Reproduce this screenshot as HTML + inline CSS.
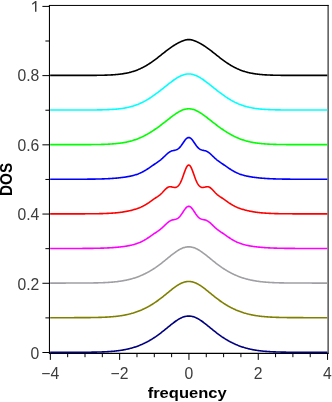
<!DOCTYPE html>
<html><head><meta charset="utf-8"><style>
html,body{margin:0;padding:0;background:#fff;overflow:hidden;}
svg{display:block;font-family:"Liberation Sans",sans-serif;will-change:transform;}
</style></head><body>
<svg width="332" height="402" viewBox="0 0 332 402">
<rect width="332" height="402" fill="#fff"/>
<g stroke="#000" stroke-width="1" fill="none">
<line x1="42.40" y1="352.50" x2="50.00" y2="352.50"/>
<line x1="45.40" y1="317.89" x2="50.00" y2="317.89"/>
<line x1="42.40" y1="283.28" x2="50.00" y2="283.28"/>
<line x1="45.40" y1="248.67" x2="50.00" y2="248.67"/>
<line x1="42.40" y1="214.06" x2="50.00" y2="214.06"/>
<line x1="45.40" y1="179.45" x2="50.00" y2="179.45"/>
<line x1="42.40" y1="144.84" x2="50.00" y2="144.84"/>
<line x1="45.40" y1="110.23" x2="50.00" y2="110.23"/>
<line x1="42.40" y1="75.62" x2="50.00" y2="75.62"/>
<line x1="45.40" y1="41.01" x2="50.00" y2="41.01"/>
<line x1="42.40" y1="6.40" x2="50.00" y2="6.40"/>
<line x1="50.35" y1="353.4" x2="50.35" y2="359.9"/>
<line x1="67.67" y1="353.4" x2="67.67" y2="357.2"/>
<line x1="85.00" y1="353.4" x2="85.00" y2="357.2"/>
<line x1="102.32" y1="353.4" x2="102.32" y2="357.2"/>
<line x1="119.65" y1="353.4" x2="119.65" y2="359.9"/>
<line x1="136.97" y1="353.4" x2="136.97" y2="357.2"/>
<line x1="154.30" y1="353.4" x2="154.30" y2="357.2"/>
<line x1="171.62" y1="353.4" x2="171.62" y2="357.2"/>
<line x1="188.95" y1="353.4" x2="188.95" y2="359.9"/>
<line x1="206.27" y1="353.4" x2="206.27" y2="357.2"/>
<line x1="223.60" y1="353.4" x2="223.60" y2="357.2"/>
<line x1="240.92" y1="353.4" x2="240.92" y2="357.2"/>
<line x1="258.25" y1="353.4" x2="258.25" y2="359.9"/>
<line x1="275.57" y1="353.4" x2="275.57" y2="357.2"/>
<line x1="292.90" y1="353.4" x2="292.90" y2="357.2"/>
<line x1="310.22" y1="353.4" x2="310.22" y2="357.2"/>
<line x1="327.55" y1="353.4" x2="327.55" y2="359.9"/>
<path d="M49.45,353.9 L49.45,4.95" stroke-width="1.05"/>
<path d="M48.95,5.45 L328.6,5.45" stroke-width="1.0"/>
<path d="M328.1,4.95 L328.1,353.9" stroke-width="1.0"/>
<path d="M48.95,353.4 L328.6,353.4" stroke-width="1.2"/>
</g>
<g>
<path d="M50.15,352.30 L50.84,352.30 L51.54,352.30 L52.23,352.30 L52.92,352.30 L53.62,352.30 L54.31,352.30 L55.00,352.30 L55.69,352.30 L56.39,352.30 L57.08,352.30 L57.77,352.30 L58.47,352.30 L59.16,352.30 L59.85,352.30 L60.54,352.30 L61.24,352.30 L61.93,352.30 L62.62,352.30 L63.32,352.30 L64.01,352.30 L64.70,352.30 L65.40,352.30 L66.09,352.29 L66.78,352.29 L67.48,352.29 L68.17,352.29 L68.86,352.29 L69.55,352.29 L70.25,352.29 L70.94,352.29 L71.63,352.29 L72.33,352.29 L73.02,352.29 L73.71,352.29 L74.41,352.28 L75.10,352.28 L75.79,352.28 L76.48,352.28 L77.18,352.28 L77.87,352.28 L78.56,352.27 L79.26,352.27 L79.95,352.27 L80.64,352.27 L81.34,352.26 L82.03,352.26 L82.72,352.26 L83.41,352.25 L84.11,352.25 L84.80,352.24 L85.49,352.24 L86.19,352.23 L86.88,352.23 L87.57,352.22 L88.27,352.21 L88.96,352.21 L89.65,352.20 L90.34,352.19 L91.04,352.18 L91.73,352.17 L92.42,352.16 L93.12,352.15 L93.81,352.14 L94.50,352.13 L95.19,352.11 L95.89,352.10 L96.58,352.09 L97.27,352.07 L97.97,352.05 L98.66,352.03 L99.35,352.01 L100.05,351.99 L100.74,351.97 L101.43,351.95 L102.12,351.92 L102.82,351.90 L103.51,351.87 L104.20,351.84 L104.90,351.81 L105.59,351.77 L106.28,351.74 L106.98,351.70 L107.67,351.66 L108.36,351.62 L109.06,351.57 L109.75,351.52 L110.44,351.47 L111.13,351.42 L111.83,351.37 L112.52,351.31 L113.21,351.25 L113.91,351.18 L114.60,351.11 L115.29,351.04 L115.99,350.97 L116.68,350.89 L117.37,350.81 L118.06,350.72 L118.76,350.63 L119.45,350.54 L120.14,350.44 L120.84,350.33 L121.53,350.23 L122.22,350.11 L122.92,350.00 L123.61,349.87 L124.30,349.75 L124.99,349.61 L125.69,349.47 L126.38,349.33 L127.07,349.18 L127.77,349.02 L128.46,348.86 L129.15,348.70 L129.85,348.52 L130.54,348.34 L131.23,348.16 L131.92,347.96 L132.62,347.76 L133.31,347.56 L134.00,347.34 L134.70,347.12 L135.39,346.89 L136.08,346.66 L136.78,346.42 L137.47,346.17 L138.16,345.91 L138.85,345.65 L139.55,345.37 L140.24,345.09 L140.93,344.80 L141.63,344.51 L142.32,344.20 L143.01,343.89 L143.71,343.57 L144.40,343.24 L145.09,342.90 L145.78,342.56 L146.48,342.20 L147.17,341.84 L147.86,341.47 L148.56,341.09 L149.25,340.70 L149.94,340.30 L150.63,339.90 L151.33,339.48 L152.02,339.06 L152.71,338.63 L153.41,338.18 L154.10,337.73 L154.79,337.27 L155.49,336.81 L156.18,336.33 L156.87,335.85 L157.56,335.35 L158.26,334.85 L158.95,334.34 L159.64,333.83 L160.34,333.30 L161.03,332.77 L161.72,332.23 L162.42,331.69 L163.11,331.14 L163.80,330.59 L164.50,330.03 L165.19,329.47 L165.88,328.91 L166.57,328.34 L167.27,327.77 L167.96,327.20 L168.65,326.64 L169.35,326.07 L170.04,325.51 L170.73,324.95 L171.43,324.40 L172.12,323.85 L172.81,323.31 L173.50,322.78 L174.20,322.26 L174.89,321.75 L175.58,321.25 L176.28,320.77 L176.97,320.31 L177.66,319.86 L178.36,319.43 L179.05,319.02 L179.74,318.64 L180.43,318.27 L181.13,317.93 L181.82,317.62 L182.51,317.33 L183.21,317.07 L183.90,316.84 L184.59,316.64 L185.28,316.46 L185.98,316.32 L186.67,316.21 L187.36,316.13 L188.06,316.08 L188.75,316.06 L189.44,316.08 L190.14,316.13 L190.83,316.21 L191.52,316.32 L192.21,316.46 L192.91,316.64 L193.60,316.84 L194.29,317.07 L194.99,317.33 L195.68,317.62 L196.37,317.93 L197.07,318.27 L197.76,318.64 L198.45,319.02 L199.14,319.43 L199.84,319.86 L200.53,320.31 L201.22,320.77 L201.92,321.25 L202.61,321.75 L203.30,322.26 L204.00,322.78 L204.69,323.31 L205.38,323.85 L206.07,324.40 L206.77,324.95 L207.46,325.51 L208.15,326.07 L208.85,326.64 L209.54,327.20 L210.23,327.77 L210.93,328.34 L211.62,328.91 L212.31,329.47 L213.00,330.03 L213.70,330.59 L214.39,331.14 L215.08,331.69 L215.78,332.23 L216.47,332.77 L217.16,333.30 L217.86,333.83 L218.55,334.34 L219.24,334.85 L219.94,335.35 L220.63,335.85 L221.32,336.33 L222.01,336.81 L222.71,337.27 L223.40,337.73 L224.09,338.18 L224.79,338.63 L225.48,339.06 L226.17,339.48 L226.87,339.90 L227.56,340.30 L228.25,340.70 L228.94,341.09 L229.64,341.47 L230.33,341.84 L231.02,342.20 L231.72,342.56 L232.41,342.90 L233.10,343.24 L233.79,343.57 L234.49,343.89 L235.18,344.20 L235.87,344.51 L236.57,344.80 L237.26,345.09 L237.95,345.37 L238.65,345.65 L239.34,345.91 L240.03,346.17 L240.72,346.42 L241.42,346.66 L242.11,346.89 L242.80,347.12 L243.50,347.34 L244.19,347.56 L244.88,347.76 L245.58,347.96 L246.27,348.16 L246.96,348.34 L247.66,348.52 L248.35,348.70 L249.04,348.86 L249.73,349.02 L250.43,349.18 L251.12,349.33 L251.81,349.47 L252.51,349.61 L253.20,349.75 L253.89,349.87 L254.59,350.00 L255.28,350.11 L255.97,350.23 L256.66,350.33 L257.36,350.44 L258.05,350.54 L258.74,350.63 L259.44,350.72 L260.13,350.81 L260.82,350.89 L261.51,350.97 L262.21,351.04 L262.90,351.11 L263.59,351.18 L264.29,351.25 L264.98,351.31 L265.67,351.37 L266.37,351.42 L267.06,351.47 L267.75,351.52 L268.44,351.57 L269.14,351.62 L269.83,351.66 L270.52,351.70 L271.22,351.74 L271.91,351.77 L272.60,351.81 L273.30,351.84 L273.99,351.87 L274.68,351.90 L275.38,351.92 L276.07,351.95 L276.76,351.97 L277.45,351.99 L278.15,352.01 L278.84,352.03 L279.53,352.05 L280.23,352.07 L280.92,352.09 L281.61,352.10 L282.31,352.11 L283.00,352.13 L283.69,352.14 L284.38,352.15 L285.08,352.16 L285.77,352.17 L286.46,352.18 L287.16,352.19 L287.85,352.20 L288.54,352.21 L289.24,352.21 L289.93,352.22 L290.62,352.23 L291.31,352.23 L292.01,352.24 L292.70,352.24 L293.39,352.25 L294.09,352.25 L294.78,352.26 L295.47,352.26 L296.17,352.26 L296.86,352.27 L297.55,352.27 L298.24,352.27 L298.94,352.27 L299.63,352.28 L300.32,352.28 L301.02,352.28 L301.71,352.28 L302.40,352.28 L303.09,352.28 L303.79,352.29 L304.48,352.29 L305.17,352.29 L305.87,352.29 L306.56,352.29 L307.25,352.29 L307.95,352.29 L308.64,352.29 L309.33,352.29 L310.02,352.29 L310.72,352.29 L311.41,352.29 L312.10,352.30 L312.80,352.30 L313.49,352.30 L314.18,352.30 L314.88,352.30 L315.57,352.30 L316.26,352.30 L316.96,352.30 L317.65,352.30 L318.34,352.30 L319.03,352.30 L319.73,352.30 L320.42,352.30 L321.11,352.30 L321.81,352.30 L322.50,352.30 L323.19,352.30 L323.88,352.30 L324.58,352.30 L325.27,352.30 L325.96,352.30 L326.66,352.30 L327.35,352.30" fill="none" stroke="#000080" stroke-width="1.6" stroke-linejoin="round"/>
<path d="M50.15,317.69 L50.84,317.69 L51.54,317.69 L52.23,317.69 L52.92,317.69 L53.62,317.69 L54.31,317.69 L55.00,317.69 L55.69,317.69 L56.39,317.69 L57.08,317.69 L57.77,317.69 L58.47,317.69 L59.16,317.69 L59.85,317.69 L60.54,317.69 L61.24,317.69 L61.93,317.69 L62.62,317.69 L63.32,317.69 L64.01,317.69 L64.70,317.69 L65.40,317.69 L66.09,317.68 L66.78,317.68 L67.48,317.68 L68.17,317.68 L68.86,317.68 L69.55,317.68 L70.25,317.68 L70.94,317.68 L71.63,317.68 L72.33,317.68 L73.02,317.68 L73.71,317.68 L74.41,317.67 L75.10,317.67 L75.79,317.67 L76.48,317.67 L77.18,317.67 L77.87,317.67 L78.56,317.66 L79.26,317.66 L79.95,317.66 L80.64,317.66 L81.34,317.65 L82.03,317.65 L82.72,317.65 L83.41,317.64 L84.11,317.64 L84.80,317.63 L85.49,317.63 L86.19,317.62 L86.88,317.62 L87.57,317.61 L88.27,317.60 L88.96,317.60 L89.65,317.59 L90.34,317.58 L91.04,317.57 L91.73,317.56 L92.42,317.55 L93.12,317.54 L93.81,317.53 L94.50,317.52 L95.19,317.50 L95.89,317.49 L96.58,317.48 L97.27,317.46 L97.97,317.44 L98.66,317.42 L99.35,317.40 L100.05,317.38 L100.74,317.36 L101.43,317.34 L102.12,317.31 L102.82,317.29 L103.51,317.26 L104.20,317.23 L104.90,317.20 L105.59,317.16 L106.28,317.13 L106.98,317.09 L107.67,317.05 L108.36,317.01 L109.06,316.96 L109.75,316.91 L110.44,316.86 L111.13,316.81 L111.83,316.76 L112.52,316.70 L113.21,316.64 L113.91,316.57 L114.60,316.50 L115.29,316.43 L115.99,316.36 L116.68,316.28 L117.37,316.20 L118.06,316.11 L118.76,316.02 L119.45,315.93 L120.14,315.83 L120.84,315.72 L121.53,315.62 L122.22,315.50 L122.92,315.39 L123.61,315.26 L124.30,315.14 L124.99,315.00 L125.69,314.86 L126.38,314.72 L127.07,314.57 L127.77,314.41 L128.46,314.25 L129.15,314.09 L129.85,313.91 L130.54,313.73 L131.23,313.55 L131.92,313.35 L132.62,313.15 L133.31,312.95 L134.00,312.73 L134.70,312.51 L135.39,312.28 L136.08,312.05 L136.78,311.81 L137.47,311.56 L138.16,311.30 L138.85,311.04 L139.55,310.76 L140.24,310.48 L140.93,310.19 L141.63,309.90 L142.32,309.59 L143.01,309.28 L143.71,308.96 L144.40,308.63 L145.09,308.29 L145.78,307.95 L146.48,307.59 L147.17,307.23 L147.86,306.86 L148.56,306.48 L149.25,306.09 L149.94,305.69 L150.63,305.29 L151.33,304.87 L152.02,304.45 L152.71,304.02 L153.41,303.57 L154.10,303.12 L154.79,302.66 L155.49,302.20 L156.18,301.72 L156.87,301.24 L157.56,300.74 L158.26,300.24 L158.95,299.73 L159.64,299.22 L160.34,298.69 L161.03,298.16 L161.72,297.62 L162.42,297.08 L163.11,296.53 L163.80,295.98 L164.50,295.42 L165.19,294.86 L165.88,294.30 L166.57,293.73 L167.27,293.16 L167.96,292.59 L168.65,292.03 L169.35,291.46 L170.04,290.90 L170.73,290.34 L171.43,289.79 L172.12,289.24 L172.81,288.70 L173.50,288.17 L174.20,287.65 L174.89,287.14 L175.58,286.64 L176.28,286.16 L176.97,285.70 L177.66,285.25 L178.36,284.82 L179.05,284.41 L179.74,284.03 L180.43,283.66 L181.13,283.32 L181.82,283.01 L182.51,282.72 L183.21,282.46 L183.90,282.23 L184.59,282.03 L185.28,281.85 L185.98,281.71 L186.67,281.60 L187.36,281.52 L188.06,281.47 L188.75,281.45 L189.44,281.47 L190.14,281.52 L190.83,281.60 L191.52,281.71 L192.21,281.85 L192.91,282.03 L193.60,282.23 L194.29,282.46 L194.99,282.72 L195.68,283.01 L196.37,283.32 L197.07,283.66 L197.76,284.03 L198.45,284.41 L199.14,284.82 L199.84,285.25 L200.53,285.70 L201.22,286.16 L201.92,286.64 L202.61,287.14 L203.30,287.65 L204.00,288.17 L204.69,288.70 L205.38,289.24 L206.07,289.79 L206.77,290.34 L207.46,290.90 L208.15,291.46 L208.85,292.03 L209.54,292.59 L210.23,293.16 L210.93,293.73 L211.62,294.30 L212.31,294.86 L213.00,295.42 L213.70,295.98 L214.39,296.53 L215.08,297.08 L215.78,297.62 L216.47,298.16 L217.16,298.69 L217.86,299.22 L218.55,299.73 L219.24,300.24 L219.94,300.74 L220.63,301.24 L221.32,301.72 L222.01,302.20 L222.71,302.66 L223.40,303.12 L224.09,303.57 L224.79,304.02 L225.48,304.45 L226.17,304.87 L226.87,305.29 L227.56,305.69 L228.25,306.09 L228.94,306.48 L229.64,306.86 L230.33,307.23 L231.02,307.59 L231.72,307.95 L232.41,308.29 L233.10,308.63 L233.79,308.96 L234.49,309.28 L235.18,309.59 L235.87,309.90 L236.57,310.19 L237.26,310.48 L237.95,310.76 L238.65,311.04 L239.34,311.30 L240.03,311.56 L240.72,311.81 L241.42,312.05 L242.11,312.28 L242.80,312.51 L243.50,312.73 L244.19,312.95 L244.88,313.15 L245.58,313.35 L246.27,313.55 L246.96,313.73 L247.66,313.91 L248.35,314.09 L249.04,314.25 L249.73,314.41 L250.43,314.57 L251.12,314.72 L251.81,314.86 L252.51,315.00 L253.20,315.14 L253.89,315.26 L254.59,315.39 L255.28,315.50 L255.97,315.62 L256.66,315.72 L257.36,315.83 L258.05,315.93 L258.74,316.02 L259.44,316.11 L260.13,316.20 L260.82,316.28 L261.51,316.36 L262.21,316.43 L262.90,316.50 L263.59,316.57 L264.29,316.64 L264.98,316.70 L265.67,316.76 L266.37,316.81 L267.06,316.86 L267.75,316.91 L268.44,316.96 L269.14,317.01 L269.83,317.05 L270.52,317.09 L271.22,317.13 L271.91,317.16 L272.60,317.20 L273.30,317.23 L273.99,317.26 L274.68,317.29 L275.38,317.31 L276.07,317.34 L276.76,317.36 L277.45,317.38 L278.15,317.40 L278.84,317.42 L279.53,317.44 L280.23,317.46 L280.92,317.48 L281.61,317.49 L282.31,317.50 L283.00,317.52 L283.69,317.53 L284.38,317.54 L285.08,317.55 L285.77,317.56 L286.46,317.57 L287.16,317.58 L287.85,317.59 L288.54,317.60 L289.24,317.60 L289.93,317.61 L290.62,317.62 L291.31,317.62 L292.01,317.63 L292.70,317.63 L293.39,317.64 L294.09,317.64 L294.78,317.65 L295.47,317.65 L296.17,317.65 L296.86,317.66 L297.55,317.66 L298.24,317.66 L298.94,317.66 L299.63,317.67 L300.32,317.67 L301.02,317.67 L301.71,317.67 L302.40,317.67 L303.09,317.67 L303.79,317.68 L304.48,317.68 L305.17,317.68 L305.87,317.68 L306.56,317.68 L307.25,317.68 L307.95,317.68 L308.64,317.68 L309.33,317.68 L310.02,317.68 L310.72,317.68 L311.41,317.68 L312.10,317.69 L312.80,317.69 L313.49,317.69 L314.18,317.69 L314.88,317.69 L315.57,317.69 L316.26,317.69 L316.96,317.69 L317.65,317.69 L318.34,317.69 L319.03,317.69 L319.73,317.69 L320.42,317.69 L321.11,317.69 L321.81,317.69 L322.50,317.69 L323.19,317.69 L323.88,317.69 L324.58,317.69 L325.27,317.69 L325.96,317.69 L326.66,317.69 L327.35,317.69" fill="none" stroke="#808000" stroke-width="1.6" stroke-linejoin="round"/>
<path d="M50.15,283.08 L50.84,283.08 L51.54,283.08 L52.23,283.08 L52.92,283.08 L53.62,283.08 L54.31,283.08 L55.00,283.08 L55.69,283.08 L56.39,283.08 L57.08,283.08 L57.77,283.08 L58.47,283.08 L59.16,283.08 L59.85,283.08 L60.54,283.08 L61.24,283.08 L61.93,283.08 L62.62,283.08 L63.32,283.08 L64.01,283.08 L64.70,283.08 L65.40,283.08 L66.09,283.07 L66.78,283.07 L67.48,283.07 L68.17,283.07 L68.86,283.07 L69.55,283.07 L70.25,283.07 L70.94,283.07 L71.63,283.07 L72.33,283.07 L73.02,283.07 L73.71,283.07 L74.41,283.06 L75.10,283.06 L75.79,283.06 L76.48,283.06 L77.18,283.06 L77.87,283.06 L78.56,283.05 L79.26,283.05 L79.95,283.05 L80.64,283.05 L81.34,283.04 L82.03,283.04 L82.72,283.04 L83.41,283.03 L84.11,283.03 L84.80,283.02 L85.49,283.02 L86.19,283.01 L86.88,283.01 L87.57,283.00 L88.27,282.99 L88.96,282.99 L89.65,282.98 L90.34,282.97 L91.04,282.96 L91.73,282.95 L92.42,282.94 L93.12,282.93 L93.81,282.92 L94.50,282.91 L95.19,282.89 L95.89,282.88 L96.58,282.87 L97.27,282.85 L97.97,282.83 L98.66,282.81 L99.35,282.79 L100.05,282.77 L100.74,282.75 L101.43,282.73 L102.12,282.70 L102.82,282.68 L103.51,282.65 L104.20,282.62 L104.90,282.59 L105.59,282.55 L106.28,282.52 L106.98,282.48 L107.67,282.44 L108.36,282.40 L109.06,282.35 L109.75,282.30 L110.44,282.25 L111.13,282.20 L111.83,282.15 L112.52,282.09 L113.21,282.03 L113.91,281.96 L114.60,281.89 L115.29,281.82 L115.99,281.75 L116.68,281.67 L117.37,281.59 L118.06,281.50 L118.76,281.41 L119.45,281.32 L120.14,281.22 L120.84,281.11 L121.53,281.01 L122.22,280.89 L122.92,280.78 L123.61,280.65 L124.30,280.53 L124.99,280.39 L125.69,280.25 L126.38,280.11 L127.07,279.96 L127.77,279.80 L128.46,279.64 L129.15,279.48 L129.85,279.30 L130.54,279.12 L131.23,278.94 L131.92,278.74 L132.62,278.54 L133.31,278.34 L134.00,278.12 L134.70,277.90 L135.39,277.67 L136.08,277.44 L136.78,277.20 L137.47,276.95 L138.16,276.69 L138.85,276.43 L139.55,276.15 L140.24,275.87 L140.93,275.58 L141.63,275.29 L142.32,274.98 L143.01,274.67 L143.71,274.35 L144.40,274.02 L145.09,273.68 L145.78,273.34 L146.48,272.98 L147.17,272.62 L147.86,272.25 L148.56,271.87 L149.25,271.48 L149.94,271.08 L150.63,270.68 L151.33,270.26 L152.02,269.84 L152.71,269.41 L153.41,268.96 L154.10,268.51 L154.79,268.05 L155.49,267.59 L156.18,267.11 L156.87,266.63 L157.56,266.13 L158.26,265.63 L158.95,265.12 L159.64,264.61 L160.34,264.08 L161.03,263.55 L161.72,263.01 L162.42,262.47 L163.11,261.92 L163.80,261.37 L164.50,260.81 L165.19,260.25 L165.88,259.69 L166.57,259.12 L167.27,258.55 L167.96,257.98 L168.65,257.42 L169.35,256.85 L170.04,256.29 L170.73,255.73 L171.43,255.18 L172.12,254.63 L172.81,254.09 L173.50,253.56 L174.20,253.04 L174.89,252.53 L175.58,252.03 L176.28,251.55 L176.97,251.09 L177.66,250.64 L178.36,250.21 L179.05,249.80 L179.74,249.42 L180.43,249.05 L181.13,248.71 L181.82,248.40 L182.51,248.11 L183.21,247.85 L183.90,247.62 L184.59,247.42 L185.28,247.24 L185.98,247.10 L186.67,246.99 L187.36,246.91 L188.06,246.86 L188.75,246.84 L189.44,246.86 L190.14,246.91 L190.83,246.99 L191.52,247.10 L192.21,247.24 L192.91,247.42 L193.60,247.62 L194.29,247.85 L194.99,248.11 L195.68,248.40 L196.37,248.71 L197.07,249.05 L197.76,249.42 L198.45,249.80 L199.14,250.21 L199.84,250.64 L200.53,251.09 L201.22,251.55 L201.92,252.03 L202.61,252.53 L203.30,253.04 L204.00,253.56 L204.69,254.09 L205.38,254.63 L206.07,255.18 L206.77,255.73 L207.46,256.29 L208.15,256.85 L208.85,257.42 L209.54,257.98 L210.23,258.55 L210.93,259.12 L211.62,259.69 L212.31,260.25 L213.00,260.81 L213.70,261.37 L214.39,261.92 L215.08,262.47 L215.78,263.01 L216.47,263.55 L217.16,264.08 L217.86,264.61 L218.55,265.12 L219.24,265.63 L219.94,266.13 L220.63,266.63 L221.32,267.11 L222.01,267.59 L222.71,268.05 L223.40,268.51 L224.09,268.96 L224.79,269.41 L225.48,269.84 L226.17,270.26 L226.87,270.68 L227.56,271.08 L228.25,271.48 L228.94,271.87 L229.64,272.25 L230.33,272.62 L231.02,272.98 L231.72,273.34 L232.41,273.68 L233.10,274.02 L233.79,274.35 L234.49,274.67 L235.18,274.98 L235.87,275.29 L236.57,275.58 L237.26,275.87 L237.95,276.15 L238.65,276.43 L239.34,276.69 L240.03,276.95 L240.72,277.20 L241.42,277.44 L242.11,277.67 L242.80,277.90 L243.50,278.12 L244.19,278.34 L244.88,278.54 L245.58,278.74 L246.27,278.94 L246.96,279.12 L247.66,279.30 L248.35,279.48 L249.04,279.64 L249.73,279.80 L250.43,279.96 L251.12,280.11 L251.81,280.25 L252.51,280.39 L253.20,280.53 L253.89,280.65 L254.59,280.78 L255.28,280.89 L255.97,281.01 L256.66,281.11 L257.36,281.22 L258.05,281.32 L258.74,281.41 L259.44,281.50 L260.13,281.59 L260.82,281.67 L261.51,281.75 L262.21,281.82 L262.90,281.89 L263.59,281.96 L264.29,282.03 L264.98,282.09 L265.67,282.15 L266.37,282.20 L267.06,282.25 L267.75,282.30 L268.44,282.35 L269.14,282.40 L269.83,282.44 L270.52,282.48 L271.22,282.52 L271.91,282.55 L272.60,282.59 L273.30,282.62 L273.99,282.65 L274.68,282.68 L275.38,282.70 L276.07,282.73 L276.76,282.75 L277.45,282.77 L278.15,282.79 L278.84,282.81 L279.53,282.83 L280.23,282.85 L280.92,282.87 L281.61,282.88 L282.31,282.89 L283.00,282.91 L283.69,282.92 L284.38,282.93 L285.08,282.94 L285.77,282.95 L286.46,282.96 L287.16,282.97 L287.85,282.98 L288.54,282.99 L289.24,282.99 L289.93,283.00 L290.62,283.01 L291.31,283.01 L292.01,283.02 L292.70,283.02 L293.39,283.03 L294.09,283.03 L294.78,283.04 L295.47,283.04 L296.17,283.04 L296.86,283.05 L297.55,283.05 L298.24,283.05 L298.94,283.05 L299.63,283.06 L300.32,283.06 L301.02,283.06 L301.71,283.06 L302.40,283.06 L303.09,283.06 L303.79,283.07 L304.48,283.07 L305.17,283.07 L305.87,283.07 L306.56,283.07 L307.25,283.07 L307.95,283.07 L308.64,283.07 L309.33,283.07 L310.02,283.07 L310.72,283.07 L311.41,283.07 L312.10,283.08 L312.80,283.08 L313.49,283.08 L314.18,283.08 L314.88,283.08 L315.57,283.08 L316.26,283.08 L316.96,283.08 L317.65,283.08 L318.34,283.08 L319.03,283.08 L319.73,283.08 L320.42,283.08 L321.11,283.08 L321.81,283.08 L322.50,283.08 L323.19,283.08 L323.88,283.08 L324.58,283.08 L325.27,283.08 L325.96,283.08 L326.66,283.08 L327.35,283.08" fill="none" stroke="#a0a0a4" stroke-width="1.6" stroke-linejoin="round"/>
<path d="M50.15,248.47 L50.84,248.47 L51.54,248.47 L52.23,248.47 L52.92,248.47 L53.62,248.47 L54.31,248.47 L55.00,248.47 L55.69,248.47 L56.39,248.47 L57.08,248.47 L57.77,248.47 L58.47,248.47 L59.16,248.47 L59.85,248.47 L60.54,248.47 L61.24,248.47 L61.93,248.47 L62.62,248.47 L63.32,248.47 L64.01,248.47 L64.70,248.46 L65.40,248.46 L66.09,248.46 L66.78,248.46 L67.48,248.46 L68.17,248.46 L68.86,248.46 L69.55,248.46 L70.25,248.46 L70.94,248.46 L71.63,248.46 L72.33,248.46 L73.02,248.46 L73.71,248.45 L74.41,248.45 L75.10,248.45 L75.79,248.45 L76.48,248.45 L77.18,248.45 L77.87,248.44 L78.56,248.44 L79.26,248.44 L79.95,248.44 L80.64,248.43 L81.34,248.43 L82.03,248.43 L82.72,248.42 L83.41,248.42 L84.11,248.42 L84.80,248.41 L85.49,248.41 L86.19,248.40 L86.88,248.40 L87.57,248.39 L88.27,248.38 L88.96,248.38 L89.65,248.37 L90.34,248.36 L91.04,248.36 L91.73,248.35 L92.42,248.34 L93.12,248.33 L93.81,248.32 L94.50,248.31 L95.19,248.30 L95.89,248.28 L96.58,248.27 L97.27,248.26 L97.97,248.24 L98.66,248.22 L99.35,248.21 L100.05,248.19 L100.74,248.17 L101.43,248.15 L102.12,248.13 L102.82,248.11 L103.51,248.08 L104.20,248.06 L104.90,248.03 L105.59,248.00 L106.28,247.98 L106.98,247.94 L107.67,247.91 L108.36,247.88 L109.06,247.84 L109.75,247.80 L110.44,247.76 L111.13,247.72 L111.83,247.68 L112.52,247.63 L113.21,247.58 L113.91,247.53 L114.60,247.48 L115.29,247.42 L115.99,247.36 L116.68,247.30 L117.37,247.24 L118.06,247.17 L118.76,247.10 L119.45,247.03 L120.14,246.95 L120.84,246.87 L121.53,246.79 L122.22,246.70 L122.92,246.61 L123.61,246.52 L124.30,246.42 L124.99,246.32 L125.69,246.21 L126.38,246.10 L127.07,245.99 L127.77,245.86 L128.46,245.74 L129.15,245.60 L129.85,245.46 L130.54,245.32 L131.23,245.17 L131.92,245.00 L132.62,244.84 L133.31,244.66 L134.00,244.47 L134.70,244.27 L135.39,244.07 L136.08,243.85 L136.78,243.62 L137.47,243.37 L138.16,243.12 L138.85,242.84 L139.55,242.56 L140.24,242.26 L140.93,241.94 L141.63,241.61 L142.32,241.27 L143.01,240.90 L143.71,240.53 L144.40,240.14 L145.09,239.73 L145.78,239.31 L146.48,238.88 L147.17,238.43 L147.86,237.98 L148.56,237.52 L149.25,237.05 L149.94,236.57 L150.63,236.10 L151.33,235.62 L152.02,235.14 L152.71,234.66 L153.41,234.19 L154.10,233.71 L154.79,233.24 L155.49,232.77 L156.18,232.29 L156.87,231.82 L157.56,231.34 L158.26,230.85 L158.95,230.35 L159.64,229.83 L160.34,229.29 L161.03,228.73 L161.72,228.14 L162.42,227.54 L163.11,226.90 L163.80,226.25 L164.50,225.59 L165.19,224.92 L165.88,224.25 L166.57,223.60 L167.27,222.98 L167.96,222.39 L168.65,221.85 L169.35,221.36 L170.04,220.94 L170.73,220.59 L171.43,220.30 L172.12,220.06 L172.81,219.88 L173.50,219.72 L174.20,219.59 L174.89,219.44 L175.58,219.27 L176.28,219.05 L176.97,218.75 L177.66,218.37 L178.36,217.88 L179.05,217.28 L179.74,216.57 L180.43,215.75 L181.13,214.84 L181.82,213.84 L182.51,212.80 L183.21,211.73 L183.90,210.66 L184.59,209.65 L185.28,208.71 L185.98,207.89 L186.67,207.22 L187.36,206.72 L188.06,206.41 L188.75,206.31 L189.44,206.41 L190.14,206.72 L190.83,207.22 L191.52,207.89 L192.21,208.71 L192.91,209.65 L193.60,210.66 L194.29,211.73 L194.99,212.80 L195.68,213.84 L196.37,214.84 L197.07,215.75 L197.76,216.57 L198.45,217.28 L199.14,217.88 L199.84,218.37 L200.53,218.75 L201.22,219.05 L201.92,219.27 L202.61,219.44 L203.30,219.59 L204.00,219.72 L204.69,219.88 L205.38,220.06 L206.07,220.30 L206.77,220.59 L207.46,220.94 L208.15,221.36 L208.85,221.85 L209.54,222.39 L210.23,222.98 L210.93,223.60 L211.62,224.25 L212.31,224.92 L213.00,225.59 L213.70,226.25 L214.39,226.90 L215.08,227.54 L215.78,228.14 L216.47,228.73 L217.16,229.29 L217.86,229.83 L218.55,230.35 L219.24,230.85 L219.94,231.34 L220.63,231.82 L221.32,232.29 L222.01,232.77 L222.71,233.24 L223.40,233.71 L224.09,234.19 L224.79,234.66 L225.48,235.14 L226.17,235.62 L226.87,236.10 L227.56,236.57 L228.25,237.05 L228.94,237.52 L229.64,237.98 L230.33,238.43 L231.02,238.88 L231.72,239.31 L232.41,239.73 L233.10,240.14 L233.79,240.53 L234.49,240.90 L235.18,241.27 L235.87,241.61 L236.57,241.94 L237.26,242.26 L237.95,242.56 L238.65,242.84 L239.34,243.12 L240.03,243.37 L240.72,243.62 L241.42,243.85 L242.11,244.07 L242.80,244.27 L243.50,244.47 L244.19,244.66 L244.88,244.84 L245.58,245.00 L246.27,245.17 L246.96,245.32 L247.66,245.46 L248.35,245.60 L249.04,245.74 L249.73,245.86 L250.43,245.99 L251.12,246.10 L251.81,246.21 L252.51,246.32 L253.20,246.42 L253.89,246.52 L254.59,246.61 L255.28,246.70 L255.97,246.79 L256.66,246.87 L257.36,246.95 L258.05,247.03 L258.74,247.10 L259.44,247.17 L260.13,247.24 L260.82,247.30 L261.51,247.36 L262.21,247.42 L262.90,247.48 L263.59,247.53 L264.29,247.58 L264.98,247.63 L265.67,247.68 L266.37,247.72 L267.06,247.76 L267.75,247.80 L268.44,247.84 L269.14,247.88 L269.83,247.91 L270.52,247.94 L271.22,247.98 L271.91,248.00 L272.60,248.03 L273.30,248.06 L273.99,248.08 L274.68,248.11 L275.38,248.13 L276.07,248.15 L276.76,248.17 L277.45,248.19 L278.15,248.21 L278.84,248.22 L279.53,248.24 L280.23,248.26 L280.92,248.27 L281.61,248.28 L282.31,248.30 L283.00,248.31 L283.69,248.32 L284.38,248.33 L285.08,248.34 L285.77,248.35 L286.46,248.36 L287.16,248.36 L287.85,248.37 L288.54,248.38 L289.24,248.38 L289.93,248.39 L290.62,248.40 L291.31,248.40 L292.01,248.41 L292.70,248.41 L293.39,248.42 L294.09,248.42 L294.78,248.42 L295.47,248.43 L296.17,248.43 L296.86,248.43 L297.55,248.44 L298.24,248.44 L298.94,248.44 L299.63,248.44 L300.32,248.45 L301.02,248.45 L301.71,248.45 L302.40,248.45 L303.09,248.45 L303.79,248.45 L304.48,248.46 L305.17,248.46 L305.87,248.46 L306.56,248.46 L307.25,248.46 L307.95,248.46 L308.64,248.46 L309.33,248.46 L310.02,248.46 L310.72,248.46 L311.41,248.46 L312.10,248.46 L312.80,248.46 L313.49,248.47 L314.18,248.47 L314.88,248.47 L315.57,248.47 L316.26,248.47 L316.96,248.47 L317.65,248.47 L318.34,248.47 L319.03,248.47 L319.73,248.47 L320.42,248.47 L321.11,248.47 L321.81,248.47 L322.50,248.47 L323.19,248.47 L323.88,248.47 L324.58,248.47 L325.27,248.47 L325.96,248.47 L326.66,248.47 L327.35,248.47" fill="none" stroke="#ff00ff" stroke-width="1.6" stroke-linejoin="round"/>
<path d="M50.15,213.86 L50.84,213.86 L51.54,213.86 L52.23,213.86 L52.92,213.86 L53.62,213.86 L54.31,213.86 L55.00,213.86 L55.69,213.86 L56.39,213.86 L57.08,213.86 L57.77,213.86 L58.47,213.86 L59.16,213.86 L59.85,213.86 L60.54,213.86 L61.24,213.86 L61.93,213.86 L62.62,213.86 L63.32,213.86 L64.01,213.86 L64.70,213.86 L65.40,213.86 L66.09,213.86 L66.78,213.86 L67.48,213.86 L68.17,213.86 L68.86,213.86 L69.55,213.86 L70.25,213.86 L70.94,213.85 L71.63,213.85 L72.33,213.85 L73.02,213.85 L73.71,213.85 L74.41,213.85 L75.10,213.85 L75.79,213.85 L76.48,213.85 L77.18,213.85 L77.87,213.85 L78.56,213.85 L79.26,213.84 L79.95,213.84 L80.64,213.84 L81.34,213.84 L82.03,213.84 L82.72,213.83 L83.41,213.83 L84.11,213.83 L84.80,213.83 L85.49,213.82 L86.19,213.82 L86.88,213.82 L87.57,213.81 L88.27,213.81 L88.96,213.80 L89.65,213.80 L90.34,213.79 L91.04,213.79 L91.73,213.78 L92.42,213.77 L93.12,213.76 L93.81,213.76 L94.50,213.75 L95.19,213.74 L95.89,213.73 L96.58,213.72 L97.27,213.71 L97.97,213.69 L98.66,213.68 L99.35,213.67 L100.05,213.65 L100.74,213.63 L101.43,213.62 L102.12,213.60 L102.82,213.58 L103.51,213.56 L104.20,213.53 L104.90,213.51 L105.59,213.48 L106.28,213.45 L106.98,213.42 L107.67,213.39 L108.36,213.36 L109.06,213.32 L109.75,213.29 L110.44,213.25 L111.13,213.20 L111.83,213.16 L112.52,213.11 L113.21,213.06 L113.91,213.01 L114.60,212.95 L115.29,212.89 L115.99,212.83 L116.68,212.77 L117.37,212.70 L118.06,212.62 L118.76,212.55 L119.45,212.47 L120.14,212.38 L120.84,212.29 L121.53,212.20 L122.22,212.10 L122.92,212.00 L123.61,211.89 L124.30,211.78 L124.99,211.66 L125.69,211.54 L126.38,211.41 L127.07,211.28 L127.77,211.14 L128.46,210.99 L129.15,210.84 L129.85,210.68 L130.54,210.52 L131.23,210.35 L131.92,210.17 L132.62,209.99 L133.31,209.80 L134.00,209.60 L134.70,209.39 L135.39,209.18 L136.08,208.96 L136.78,208.73 L137.47,208.48 L138.16,208.23 L138.85,207.97 L139.55,207.70 L140.24,207.41 L140.93,207.12 L141.63,206.80 L142.32,206.48 L143.01,206.13 L143.71,205.77 L144.40,205.40 L145.09,205.01 L145.78,204.60 L146.48,204.17 L147.17,203.73 L147.86,203.27 L148.56,202.81 L149.25,202.33 L149.94,201.84 L150.63,201.35 L151.33,200.86 L152.02,200.37 L152.71,199.88 L153.41,199.40 L154.10,198.92 L154.79,198.45 L155.49,197.99 L156.18,197.53 L156.87,197.07 L157.56,196.61 L158.26,196.12 L158.95,195.62 L159.64,195.08 L160.34,194.51 L161.03,193.89 L161.72,193.23 L162.42,192.53 L163.11,191.79 L163.80,191.04 L164.50,190.28 L165.19,189.55 L165.88,188.86 L166.57,188.24 L167.27,187.72 L167.96,187.30 L168.65,187.00 L169.35,186.82 L170.04,186.75 L170.73,186.77 L171.43,186.87 L172.12,187.01 L172.81,187.17 L173.50,187.31 L174.20,187.41 L174.89,187.44 L175.58,187.38 L176.28,187.20 L176.97,186.88 L177.66,186.40 L178.36,185.74 L179.05,184.90 L179.74,183.85 L180.43,182.60 L181.13,181.14 L181.82,179.50 L182.51,177.71 L183.21,175.80 L183.90,173.83 L184.59,171.88 L185.28,170.04 L185.98,168.37 L186.67,166.97 L187.36,165.91 L188.06,165.25 L188.75,165.02 L189.44,165.25 L190.14,165.91 L190.83,166.97 L191.52,168.37 L192.21,170.04 L192.91,171.88 L193.60,173.83 L194.29,175.80 L194.99,177.71 L195.68,179.50 L196.37,181.14 L197.07,182.60 L197.76,183.85 L198.45,184.90 L199.14,185.74 L199.84,186.40 L200.53,186.88 L201.22,187.20 L201.92,187.38 L202.61,187.44 L203.30,187.41 L204.00,187.31 L204.69,187.17 L205.38,187.01 L206.07,186.87 L206.77,186.77 L207.46,186.75 L208.15,186.82 L208.85,187.00 L209.54,187.30 L210.23,187.72 L210.93,188.24 L211.62,188.86 L212.31,189.55 L213.00,190.28 L213.70,191.04 L214.39,191.79 L215.08,192.53 L215.78,193.23 L216.47,193.89 L217.16,194.51 L217.86,195.08 L218.55,195.62 L219.24,196.12 L219.94,196.61 L220.63,197.07 L221.32,197.53 L222.01,197.99 L222.71,198.45 L223.40,198.92 L224.09,199.40 L224.79,199.88 L225.48,200.37 L226.17,200.86 L226.87,201.35 L227.56,201.84 L228.25,202.33 L228.94,202.81 L229.64,203.27 L230.33,203.73 L231.02,204.17 L231.72,204.60 L232.41,205.01 L233.10,205.40 L233.79,205.77 L234.49,206.13 L235.18,206.48 L235.87,206.80 L236.57,207.12 L237.26,207.41 L237.95,207.70 L238.65,207.97 L239.34,208.23 L240.03,208.48 L240.72,208.73 L241.42,208.96 L242.11,209.18 L242.80,209.39 L243.50,209.60 L244.19,209.80 L244.88,209.99 L245.58,210.17 L246.27,210.35 L246.96,210.52 L247.66,210.68 L248.35,210.84 L249.04,210.99 L249.73,211.14 L250.43,211.28 L251.12,211.41 L251.81,211.54 L252.51,211.66 L253.20,211.78 L253.89,211.89 L254.59,212.00 L255.28,212.10 L255.97,212.20 L256.66,212.29 L257.36,212.38 L258.05,212.47 L258.74,212.55 L259.44,212.62 L260.13,212.70 L260.82,212.77 L261.51,212.83 L262.21,212.89 L262.90,212.95 L263.59,213.01 L264.29,213.06 L264.98,213.11 L265.67,213.16 L266.37,213.20 L267.06,213.25 L267.75,213.29 L268.44,213.32 L269.14,213.36 L269.83,213.39 L270.52,213.42 L271.22,213.45 L271.91,213.48 L272.60,213.51 L273.30,213.53 L273.99,213.56 L274.68,213.58 L275.38,213.60 L276.07,213.62 L276.76,213.63 L277.45,213.65 L278.15,213.67 L278.84,213.68 L279.53,213.69 L280.23,213.71 L280.92,213.72 L281.61,213.73 L282.31,213.74 L283.00,213.75 L283.69,213.76 L284.38,213.76 L285.08,213.77 L285.77,213.78 L286.46,213.79 L287.16,213.79 L287.85,213.80 L288.54,213.80 L289.24,213.81 L289.93,213.81 L290.62,213.82 L291.31,213.82 L292.01,213.82 L292.70,213.83 L293.39,213.83 L294.09,213.83 L294.78,213.83 L295.47,213.84 L296.17,213.84 L296.86,213.84 L297.55,213.84 L298.24,213.84 L298.94,213.85 L299.63,213.85 L300.32,213.85 L301.02,213.85 L301.71,213.85 L302.40,213.85 L303.09,213.85 L303.79,213.85 L304.48,213.85 L305.17,213.85 L305.87,213.85 L306.56,213.85 L307.25,213.86 L307.95,213.86 L308.64,213.86 L309.33,213.86 L310.02,213.86 L310.72,213.86 L311.41,213.86 L312.10,213.86 L312.80,213.86 L313.49,213.86 L314.18,213.86 L314.88,213.86 L315.57,213.86 L316.26,213.86 L316.96,213.86 L317.65,213.86 L318.34,213.86 L319.03,213.86 L319.73,213.86 L320.42,213.86 L321.11,213.86 L321.81,213.86 L322.50,213.86 L323.19,213.86 L323.88,213.86 L324.58,213.86 L325.27,213.86 L325.96,213.86 L326.66,213.86 L327.35,213.86" fill="none" stroke="#ff0000" stroke-width="1.6" stroke-linejoin="round"/>
<path d="M50.15,179.25 L50.84,179.25 L51.54,179.25 L52.23,179.25 L52.92,179.25 L53.62,179.25 L54.31,179.25 L55.00,179.25 L55.69,179.25 L56.39,179.25 L57.08,179.25 L57.77,179.25 L58.47,179.25 L59.16,179.25 L59.85,179.25 L60.54,179.25 L61.24,179.25 L61.93,179.25 L62.62,179.25 L63.32,179.25 L64.01,179.25 L64.70,179.24 L65.40,179.24 L66.09,179.24 L66.78,179.24 L67.48,179.24 L68.17,179.24 L68.86,179.24 L69.55,179.24 L70.25,179.24 L70.94,179.24 L71.63,179.24 L72.33,179.24 L73.02,179.24 L73.71,179.23 L74.41,179.23 L75.10,179.23 L75.79,179.23 L76.48,179.23 L77.18,179.23 L77.87,179.22 L78.56,179.22 L79.26,179.22 L79.95,179.22 L80.64,179.21 L81.34,179.21 L82.03,179.21 L82.72,179.20 L83.41,179.20 L84.11,179.20 L84.80,179.19 L85.49,179.19 L86.19,179.18 L86.88,179.18 L87.57,179.17 L88.27,179.16 L88.96,179.16 L89.65,179.15 L90.34,179.14 L91.04,179.14 L91.73,179.13 L92.42,179.12 L93.12,179.11 L93.81,179.10 L94.50,179.09 L95.19,179.08 L95.89,179.06 L96.58,179.05 L97.27,179.04 L97.97,179.02 L98.66,179.00 L99.35,178.99 L100.05,178.97 L100.74,178.95 L101.43,178.93 L102.12,178.91 L102.82,178.89 L103.51,178.86 L104.20,178.84 L104.90,178.81 L105.59,178.78 L106.28,178.76 L106.98,178.72 L107.67,178.69 L108.36,178.66 L109.06,178.62 L109.75,178.58 L110.44,178.54 L111.13,178.50 L111.83,178.46 L112.52,178.41 L113.21,178.36 L113.91,178.31 L114.60,178.26 L115.29,178.20 L115.99,178.14 L116.68,178.08 L117.37,178.02 L118.06,177.95 L118.76,177.88 L119.45,177.81 L120.14,177.73 L120.84,177.65 L121.53,177.57 L122.22,177.48 L122.92,177.39 L123.61,177.30 L124.30,177.20 L124.99,177.10 L125.69,176.99 L126.38,176.88 L127.07,176.77 L127.77,176.64 L128.46,176.52 L129.15,176.38 L129.85,176.24 L130.54,176.10 L131.23,175.95 L131.92,175.78 L132.62,175.62 L133.31,175.44 L134.00,175.25 L134.70,175.05 L135.39,174.85 L136.08,174.63 L136.78,174.40 L137.47,174.15 L138.16,173.90 L138.85,173.62 L139.55,173.34 L140.24,173.04 L140.93,172.72 L141.63,172.39 L142.32,172.05 L143.01,171.68 L143.71,171.31 L144.40,170.92 L145.09,170.51 L145.78,170.09 L146.48,169.66 L147.17,169.21 L147.86,168.76 L148.56,168.30 L149.25,167.83 L149.94,167.35 L150.63,166.88 L151.33,166.40 L152.02,165.92 L152.71,165.44 L153.41,164.97 L154.10,164.49 L154.79,164.02 L155.49,163.55 L156.18,163.07 L156.87,162.60 L157.56,162.12 L158.26,161.63 L158.95,161.13 L159.64,160.61 L160.34,160.07 L161.03,159.51 L161.72,158.92 L162.42,158.32 L163.11,157.68 L163.80,157.03 L164.50,156.37 L165.19,155.70 L165.88,155.03 L166.57,154.38 L167.27,153.76 L167.96,153.17 L168.65,152.63 L169.35,152.14 L170.04,151.72 L170.73,151.37 L171.43,151.08 L172.12,150.84 L172.81,150.66 L173.50,150.51 L174.20,150.37 L174.89,150.23 L175.58,150.06 L176.28,149.84 L176.97,149.56 L177.66,149.18 L178.36,148.70 L179.05,148.12 L179.74,147.43 L180.43,146.63 L181.13,145.74 L181.82,144.77 L182.51,143.76 L183.21,142.72 L183.90,141.70 L184.59,140.72 L185.28,139.82 L185.98,139.03 L186.67,138.38 L187.36,137.90 L188.06,137.60 L188.75,137.50 L189.44,137.60 L190.14,137.90 L190.83,138.38 L191.52,139.03 L192.21,139.82 L192.91,140.72 L193.60,141.70 L194.29,142.72 L194.99,143.76 L195.68,144.77 L196.37,145.74 L197.07,146.63 L197.76,147.43 L198.45,148.12 L199.14,148.70 L199.84,149.18 L200.53,149.56 L201.22,149.84 L201.92,150.06 L202.61,150.23 L203.30,150.37 L204.00,150.51 L204.69,150.66 L205.38,150.84 L206.07,151.08 L206.77,151.37 L207.46,151.72 L208.15,152.14 L208.85,152.63 L209.54,153.17 L210.23,153.76 L210.93,154.38 L211.62,155.03 L212.31,155.70 L213.00,156.37 L213.70,157.03 L214.39,157.68 L215.08,158.32 L215.78,158.92 L216.47,159.51 L217.16,160.07 L217.86,160.61 L218.55,161.13 L219.24,161.63 L219.94,162.12 L220.63,162.60 L221.32,163.07 L222.01,163.55 L222.71,164.02 L223.40,164.49 L224.09,164.97 L224.79,165.44 L225.48,165.92 L226.17,166.40 L226.87,166.88 L227.56,167.35 L228.25,167.83 L228.94,168.30 L229.64,168.76 L230.33,169.21 L231.02,169.66 L231.72,170.09 L232.41,170.51 L233.10,170.92 L233.79,171.31 L234.49,171.68 L235.18,172.05 L235.87,172.39 L236.57,172.72 L237.26,173.04 L237.95,173.34 L238.65,173.62 L239.34,173.90 L240.03,174.15 L240.72,174.40 L241.42,174.63 L242.11,174.85 L242.80,175.05 L243.50,175.25 L244.19,175.44 L244.88,175.62 L245.58,175.78 L246.27,175.95 L246.96,176.10 L247.66,176.24 L248.35,176.38 L249.04,176.52 L249.73,176.64 L250.43,176.77 L251.12,176.88 L251.81,176.99 L252.51,177.10 L253.20,177.20 L253.89,177.30 L254.59,177.39 L255.28,177.48 L255.97,177.57 L256.66,177.65 L257.36,177.73 L258.05,177.81 L258.74,177.88 L259.44,177.95 L260.13,178.02 L260.82,178.08 L261.51,178.14 L262.21,178.20 L262.90,178.26 L263.59,178.31 L264.29,178.36 L264.98,178.41 L265.67,178.46 L266.37,178.50 L267.06,178.54 L267.75,178.58 L268.44,178.62 L269.14,178.66 L269.83,178.69 L270.52,178.72 L271.22,178.76 L271.91,178.78 L272.60,178.81 L273.30,178.84 L273.99,178.86 L274.68,178.89 L275.38,178.91 L276.07,178.93 L276.76,178.95 L277.45,178.97 L278.15,178.99 L278.84,179.00 L279.53,179.02 L280.23,179.04 L280.92,179.05 L281.61,179.06 L282.31,179.08 L283.00,179.09 L283.69,179.10 L284.38,179.11 L285.08,179.12 L285.77,179.13 L286.46,179.14 L287.16,179.14 L287.85,179.15 L288.54,179.16 L289.24,179.16 L289.93,179.17 L290.62,179.18 L291.31,179.18 L292.01,179.19 L292.70,179.19 L293.39,179.20 L294.09,179.20 L294.78,179.20 L295.47,179.21 L296.17,179.21 L296.86,179.21 L297.55,179.22 L298.24,179.22 L298.94,179.22 L299.63,179.22 L300.32,179.23 L301.02,179.23 L301.71,179.23 L302.40,179.23 L303.09,179.23 L303.79,179.23 L304.48,179.24 L305.17,179.24 L305.87,179.24 L306.56,179.24 L307.25,179.24 L307.95,179.24 L308.64,179.24 L309.33,179.24 L310.02,179.24 L310.72,179.24 L311.41,179.24 L312.10,179.24 L312.80,179.24 L313.49,179.25 L314.18,179.25 L314.88,179.25 L315.57,179.25 L316.26,179.25 L316.96,179.25 L317.65,179.25 L318.34,179.25 L319.03,179.25 L319.73,179.25 L320.42,179.25 L321.11,179.25 L321.81,179.25 L322.50,179.25 L323.19,179.25 L323.88,179.25 L324.58,179.25 L325.27,179.25 L325.96,179.25 L326.66,179.25 L327.35,179.25" fill="none" stroke="#0000ff" stroke-width="1.6" stroke-linejoin="round"/>
<path d="M50.15,144.64 L50.84,144.64 L51.54,144.64 L52.23,144.64 L52.92,144.64 L53.62,144.64 L54.31,144.64 L55.00,144.64 L55.69,144.64 L56.39,144.64 L57.08,144.64 L57.77,144.64 L58.47,144.64 L59.16,144.64 L59.85,144.64 L60.54,144.64 L61.24,144.64 L61.93,144.64 L62.62,144.64 L63.32,144.64 L64.01,144.64 L64.70,144.64 L65.40,144.64 L66.09,144.64 L66.78,144.64 L67.48,144.64 L68.17,144.64 L68.86,144.64 L69.55,144.64 L70.25,144.64 L70.94,144.64 L71.63,144.64 L72.33,144.64 L73.02,144.63 L73.71,144.63 L74.41,144.63 L75.10,144.63 L75.79,144.63 L76.48,144.63 L77.18,144.63 L77.87,144.63 L78.56,144.63 L79.26,144.63 L79.95,144.63 L80.64,144.62 L81.34,144.62 L82.03,144.62 L82.72,144.62 L83.41,144.62 L84.11,144.61 L84.80,144.61 L85.49,144.61 L86.19,144.61 L86.88,144.60 L87.57,144.60 L88.27,144.60 L88.96,144.59 L89.65,144.59 L90.34,144.58 L91.04,144.58 L91.73,144.57 L92.42,144.56 L93.12,144.56 L93.81,144.55 L94.50,144.54 L95.19,144.53 L95.89,144.52 L96.58,144.51 L97.27,144.50 L97.97,144.49 L98.66,144.48 L99.35,144.46 L100.05,144.45 L100.74,144.43 L101.43,144.42 L102.12,144.40 L102.82,144.38 L103.51,144.36 L104.20,144.34 L104.90,144.31 L105.59,144.29 L106.28,144.26 L106.98,144.23 L107.67,144.20 L108.36,144.16 L109.06,144.13 L109.75,144.09 L110.44,144.05 L111.13,144.01 L111.83,143.96 L112.52,143.91 L113.21,143.86 L113.91,143.81 L114.60,143.75 L115.29,143.69 L115.99,143.62 L116.68,143.56 L117.37,143.48 L118.06,143.41 L118.76,143.33 L119.45,143.24 L120.14,143.15 L120.84,143.06 L121.53,142.96 L122.22,142.85 L122.92,142.74 L123.61,142.63 L124.30,142.51 L124.99,142.38 L125.69,142.25 L126.38,142.11 L127.07,141.96 L127.77,141.81 L128.46,141.65 L129.15,141.48 L129.85,141.31 L130.54,141.13 L131.23,140.94 L131.92,140.75 L132.62,140.54 L133.31,140.33 L134.00,140.11 L134.70,139.88 L135.39,139.65 L136.08,139.40 L136.78,139.15 L137.47,138.89 L138.16,138.62 L138.85,138.34 L139.55,138.05 L140.24,137.75 L140.93,137.45 L141.63,137.13 L142.32,136.81 L143.01,136.47 L143.71,136.13 L144.40,135.78 L145.09,135.42 L145.78,135.05 L146.48,134.67 L147.17,134.29 L147.86,133.89 L148.56,133.49 L149.25,133.08 L149.94,132.66 L150.63,132.23 L151.33,131.80 L152.02,131.35 L152.71,130.90 L153.41,130.45 L154.10,129.98 L154.79,129.51 L155.49,129.03 L156.18,128.55 L156.87,128.06 L157.56,127.56 L158.26,127.06 L158.95,126.55 L159.64,126.04 L160.34,125.52 L161.03,125.00 L161.72,124.47 L162.42,123.94 L163.11,123.41 L163.80,122.87 L164.50,122.33 L165.19,121.79 L165.88,121.25 L166.57,120.71 L167.27,120.16 L167.96,119.62 L168.65,119.08 L169.35,118.54 L170.04,118.00 L170.73,117.46 L171.43,116.93 L172.12,116.41 L172.81,115.89 L173.50,115.38 L174.20,114.88 L174.89,114.39 L175.58,113.91 L176.28,113.44 L176.97,112.99 L177.66,112.55 L178.36,112.13 L179.05,111.73 L179.74,111.35 L180.43,110.99 L181.13,110.66 L181.82,110.34 L182.51,110.06 L183.21,109.80 L183.90,109.56 L184.59,109.36 L185.28,109.19 L185.98,109.04 L186.67,108.93 L187.36,108.85 L188.06,108.80 L188.75,108.78 L189.44,108.80 L190.14,108.85 L190.83,108.93 L191.52,109.04 L192.21,109.19 L192.91,109.36 L193.60,109.56 L194.29,109.80 L194.99,110.06 L195.68,110.34 L196.37,110.66 L197.07,110.99 L197.76,111.35 L198.45,111.73 L199.14,112.13 L199.84,112.55 L200.53,112.99 L201.22,113.44 L201.92,113.91 L202.61,114.39 L203.30,114.88 L204.00,115.38 L204.69,115.89 L205.38,116.41 L206.07,116.93 L206.77,117.46 L207.46,118.00 L208.15,118.54 L208.85,119.08 L209.54,119.62 L210.23,120.16 L210.93,120.71 L211.62,121.25 L212.31,121.79 L213.00,122.33 L213.70,122.87 L214.39,123.41 L215.08,123.94 L215.78,124.47 L216.47,125.00 L217.16,125.52 L217.86,126.04 L218.55,126.55 L219.24,127.06 L219.94,127.56 L220.63,128.06 L221.32,128.55 L222.01,129.03 L222.71,129.51 L223.40,129.98 L224.09,130.45 L224.79,130.90 L225.48,131.35 L226.17,131.80 L226.87,132.23 L227.56,132.66 L228.25,133.08 L228.94,133.49 L229.64,133.89 L230.33,134.29 L231.02,134.67 L231.72,135.05 L232.41,135.42 L233.10,135.78 L233.79,136.13 L234.49,136.47 L235.18,136.81 L235.87,137.13 L236.57,137.45 L237.26,137.75 L237.95,138.05 L238.65,138.34 L239.34,138.62 L240.03,138.89 L240.72,139.15 L241.42,139.40 L242.11,139.65 L242.80,139.88 L243.50,140.11 L244.19,140.33 L244.88,140.54 L245.58,140.75 L246.27,140.94 L246.96,141.13 L247.66,141.31 L248.35,141.48 L249.04,141.65 L249.73,141.81 L250.43,141.96 L251.12,142.11 L251.81,142.25 L252.51,142.38 L253.20,142.51 L253.89,142.63 L254.59,142.74 L255.28,142.85 L255.97,142.96 L256.66,143.06 L257.36,143.15 L258.05,143.24 L258.74,143.33 L259.44,143.41 L260.13,143.48 L260.82,143.56 L261.51,143.62 L262.21,143.69 L262.90,143.75 L263.59,143.81 L264.29,143.86 L264.98,143.91 L265.67,143.96 L266.37,144.01 L267.06,144.05 L267.75,144.09 L268.44,144.13 L269.14,144.16 L269.83,144.20 L270.52,144.23 L271.22,144.26 L271.91,144.29 L272.60,144.31 L273.30,144.34 L273.99,144.36 L274.68,144.38 L275.38,144.40 L276.07,144.42 L276.76,144.43 L277.45,144.45 L278.15,144.46 L278.84,144.48 L279.53,144.49 L280.23,144.50 L280.92,144.51 L281.61,144.52 L282.31,144.53 L283.00,144.54 L283.69,144.55 L284.38,144.56 L285.08,144.56 L285.77,144.57 L286.46,144.58 L287.16,144.58 L287.85,144.59 L288.54,144.59 L289.24,144.60 L289.93,144.60 L290.62,144.60 L291.31,144.61 L292.01,144.61 L292.70,144.61 L293.39,144.61 L294.09,144.62 L294.78,144.62 L295.47,144.62 L296.17,144.62 L296.86,144.62 L297.55,144.63 L298.24,144.63 L298.94,144.63 L299.63,144.63 L300.32,144.63 L301.02,144.63 L301.71,144.63 L302.40,144.63 L303.09,144.63 L303.79,144.63 L304.48,144.63 L305.17,144.64 L305.87,144.64 L306.56,144.64 L307.25,144.64 L307.95,144.64 L308.64,144.64 L309.33,144.64 L310.02,144.64 L310.72,144.64 L311.41,144.64 L312.10,144.64 L312.80,144.64 L313.49,144.64 L314.18,144.64 L314.88,144.64 L315.57,144.64 L316.26,144.64 L316.96,144.64 L317.65,144.64 L318.34,144.64 L319.03,144.64 L319.73,144.64 L320.42,144.64 L321.11,144.64 L321.81,144.64 L322.50,144.64 L323.19,144.64 L323.88,144.64 L324.58,144.64 L325.27,144.64 L325.96,144.64 L326.66,144.64 L327.35,144.64" fill="none" stroke="#00ff00" stroke-width="1.6" stroke-linejoin="round"/>
<path d="M50.15,110.03 L50.84,110.03 L51.54,110.03 L52.23,110.03 L52.92,110.03 L53.62,110.03 L54.31,110.03 L55.00,110.03 L55.69,110.03 L56.39,110.03 L57.08,110.03 L57.77,110.03 L58.47,110.03 L59.16,110.03 L59.85,110.03 L60.54,110.03 L61.24,110.03 L61.93,110.03 L62.62,110.03 L63.32,110.03 L64.01,110.03 L64.70,110.03 L65.40,110.03 L66.09,110.03 L66.78,110.03 L67.48,110.03 L68.17,110.03 L68.86,110.03 L69.55,110.03 L70.25,110.03 L70.94,110.03 L71.63,110.03 L72.33,110.03 L73.02,110.03 L73.71,110.03 L74.41,110.03 L75.10,110.03 L75.79,110.02 L76.48,110.02 L77.18,110.02 L77.87,110.02 L78.56,110.02 L79.26,110.02 L79.95,110.02 L80.64,110.02 L81.34,110.02 L82.03,110.02 L82.72,110.02 L83.41,110.01 L84.11,110.01 L84.80,110.01 L85.49,110.01 L86.19,110.01 L86.88,110.00 L87.57,110.00 L88.27,110.00 L88.96,109.99 L89.65,109.99 L90.34,109.99 L91.04,109.98 L91.73,109.98 L92.42,109.97 L93.12,109.97 L93.81,109.96 L94.50,109.96 L95.19,109.95 L95.89,109.94 L96.58,109.93 L97.27,109.92 L97.97,109.91 L98.66,109.90 L99.35,109.89 L100.05,109.88 L100.74,109.87 L101.43,109.85 L102.12,109.84 L102.82,109.82 L103.51,109.80 L104.20,109.78 L104.90,109.76 L105.59,109.74 L106.28,109.72 L106.98,109.69 L107.67,109.66 L108.36,109.63 L109.06,109.60 L109.75,109.57 L110.44,109.53 L111.13,109.49 L111.83,109.45 L112.52,109.41 L113.21,109.36 L113.91,109.31 L114.60,109.26 L115.29,109.20 L115.99,109.14 L116.68,109.08 L117.37,109.01 L118.06,108.94 L118.76,108.87 L119.45,108.79 L120.14,108.70 L120.84,108.61 L121.53,108.52 L122.22,108.42 L122.92,108.32 L123.61,108.21 L124.30,108.09 L124.99,107.97 L125.69,107.84 L126.38,107.70 L127.07,107.56 L127.77,107.41 L128.46,107.26 L129.15,107.09 L129.85,106.92 L130.54,106.74 L131.23,106.56 L131.92,106.36 L132.62,106.16 L133.31,105.95 L134.00,105.73 L134.70,105.50 L135.39,105.26 L136.08,105.02 L136.78,104.76 L137.47,104.49 L138.16,104.22 L138.85,103.93 L139.55,103.64 L140.24,103.33 L140.93,103.02 L141.63,102.69 L142.32,102.36 L143.01,102.01 L143.71,101.66 L144.40,101.29 L145.09,100.92 L145.78,100.53 L146.48,100.14 L147.17,99.73 L147.86,99.32 L148.56,98.90 L149.25,98.47 L149.94,98.02 L150.63,97.57 L151.33,97.12 L152.02,96.65 L152.71,96.17 L153.41,95.69 L154.10,95.20 L154.79,94.70 L155.49,94.20 L156.18,93.69 L156.87,93.17 L157.56,92.65 L158.26,92.13 L158.95,91.59 L159.64,91.06 L160.34,90.52 L161.03,89.97 L161.72,89.43 L162.42,88.88 L163.11,88.33 L163.80,87.77 L164.50,87.22 L165.19,86.67 L165.88,86.11 L166.57,85.56 L167.27,85.01 L167.96,84.46 L168.65,83.92 L169.35,83.38 L170.04,82.84 L170.73,82.31 L171.43,81.79 L172.12,81.27 L172.81,80.76 L173.50,80.26 L174.20,79.77 L174.89,79.29 L175.58,78.83 L176.28,78.38 L176.97,77.94 L177.66,77.52 L178.36,77.12 L179.05,76.73 L179.74,76.37 L180.43,76.03 L181.13,75.70 L181.82,75.41 L182.51,75.14 L183.21,74.89 L183.90,74.67 L184.59,74.48 L185.28,74.31 L185.98,74.18 L186.67,74.07 L187.36,73.99 L188.06,73.95 L188.75,73.93 L189.44,73.95 L190.14,73.99 L190.83,74.07 L191.52,74.18 L192.21,74.31 L192.91,74.48 L193.60,74.67 L194.29,74.89 L194.99,75.14 L195.68,75.41 L196.37,75.70 L197.07,76.03 L197.76,76.37 L198.45,76.73 L199.14,77.12 L199.84,77.52 L200.53,77.94 L201.22,78.38 L201.92,78.83 L202.61,79.29 L203.30,79.77 L204.00,80.26 L204.69,80.76 L205.38,81.27 L206.07,81.79 L206.77,82.31 L207.46,82.84 L208.15,83.38 L208.85,83.92 L209.54,84.46 L210.23,85.01 L210.93,85.56 L211.62,86.11 L212.31,86.67 L213.00,87.22 L213.70,87.77 L214.39,88.33 L215.08,88.88 L215.78,89.43 L216.47,89.97 L217.16,90.52 L217.86,91.06 L218.55,91.59 L219.24,92.13 L219.94,92.65 L220.63,93.17 L221.32,93.69 L222.01,94.20 L222.71,94.70 L223.40,95.20 L224.09,95.69 L224.79,96.17 L225.48,96.65 L226.17,97.12 L226.87,97.57 L227.56,98.02 L228.25,98.47 L228.94,98.90 L229.64,99.32 L230.33,99.73 L231.02,100.14 L231.72,100.53 L232.41,100.92 L233.10,101.29 L233.79,101.66 L234.49,102.01 L235.18,102.36 L235.87,102.69 L236.57,103.02 L237.26,103.33 L237.95,103.64 L238.65,103.93 L239.34,104.22 L240.03,104.49 L240.72,104.76 L241.42,105.02 L242.11,105.26 L242.80,105.50 L243.50,105.73 L244.19,105.95 L244.88,106.16 L245.58,106.36 L246.27,106.56 L246.96,106.74 L247.66,106.92 L248.35,107.09 L249.04,107.26 L249.73,107.41 L250.43,107.56 L251.12,107.70 L251.81,107.84 L252.51,107.97 L253.20,108.09 L253.89,108.21 L254.59,108.32 L255.28,108.42 L255.97,108.52 L256.66,108.61 L257.36,108.70 L258.05,108.79 L258.74,108.87 L259.44,108.94 L260.13,109.01 L260.82,109.08 L261.51,109.14 L262.21,109.20 L262.90,109.26 L263.59,109.31 L264.29,109.36 L264.98,109.41 L265.67,109.45 L266.37,109.49 L267.06,109.53 L267.75,109.57 L268.44,109.60 L269.14,109.63 L269.83,109.66 L270.52,109.69 L271.22,109.72 L271.91,109.74 L272.60,109.76 L273.30,109.78 L273.99,109.80 L274.68,109.82 L275.38,109.84 L276.07,109.85 L276.76,109.87 L277.45,109.88 L278.15,109.89 L278.84,109.90 L279.53,109.91 L280.23,109.92 L280.92,109.93 L281.61,109.94 L282.31,109.95 L283.00,109.96 L283.69,109.96 L284.38,109.97 L285.08,109.97 L285.77,109.98 L286.46,109.98 L287.16,109.99 L287.85,109.99 L288.54,109.99 L289.24,110.00 L289.93,110.00 L290.62,110.00 L291.31,110.01 L292.01,110.01 L292.70,110.01 L293.39,110.01 L294.09,110.01 L294.78,110.02 L295.47,110.02 L296.17,110.02 L296.86,110.02 L297.55,110.02 L298.24,110.02 L298.94,110.02 L299.63,110.02 L300.32,110.02 L301.02,110.02 L301.71,110.02 L302.40,110.03 L303.09,110.03 L303.79,110.03 L304.48,110.03 L305.17,110.03 L305.87,110.03 L306.56,110.03 L307.25,110.03 L307.95,110.03 L308.64,110.03 L309.33,110.03 L310.02,110.03 L310.72,110.03 L311.41,110.03 L312.10,110.03 L312.80,110.03 L313.49,110.03 L314.18,110.03 L314.88,110.03 L315.57,110.03 L316.26,110.03 L316.96,110.03 L317.65,110.03 L318.34,110.03 L319.03,110.03 L319.73,110.03 L320.42,110.03 L321.11,110.03 L321.81,110.03 L322.50,110.03 L323.19,110.03 L323.88,110.03 L324.58,110.03 L325.27,110.03 L325.96,110.03 L326.66,110.03 L327.35,110.03" fill="none" stroke="#00ffff" stroke-width="1.6" stroke-linejoin="round"/>
<path d="M50.15,75.42 L50.84,75.42 L51.54,75.42 L52.23,75.42 L52.92,75.42 L53.62,75.42 L54.31,75.42 L55.00,75.42 L55.69,75.42 L56.39,75.42 L57.08,75.42 L57.77,75.42 L58.47,75.42 L59.16,75.42 L59.85,75.42 L60.54,75.42 L61.24,75.42 L61.93,75.42 L62.62,75.42 L63.32,75.42 L64.01,75.42 L64.70,75.42 L65.40,75.42 L66.09,75.42 L66.78,75.42 L67.48,75.42 L68.17,75.42 L68.86,75.42 L69.55,75.42 L70.25,75.42 L70.94,75.42 L71.63,75.42 L72.33,75.42 L73.02,75.42 L73.71,75.42 L74.41,75.42 L75.10,75.42 L75.79,75.42 L76.48,75.42 L77.18,75.41 L77.87,75.41 L78.56,75.41 L79.26,75.41 L79.95,75.41 L80.64,75.41 L81.34,75.41 L82.03,75.41 L82.72,75.41 L83.41,75.41 L84.11,75.40 L84.80,75.40 L85.49,75.40 L86.19,75.40 L86.88,75.40 L87.57,75.39 L88.27,75.39 L88.96,75.39 L89.65,75.38 L90.34,75.38 L91.04,75.38 L91.73,75.37 L92.42,75.37 L93.12,75.36 L93.81,75.36 L94.50,75.35 L95.19,75.35 L95.89,75.34 L96.58,75.33 L97.27,75.32 L97.97,75.31 L98.66,75.30 L99.35,75.29 L100.05,75.28 L100.74,75.27 L101.43,75.25 L102.12,75.24 L102.82,75.22 L103.51,75.21 L104.20,75.19 L104.90,75.17 L105.59,75.15 L106.28,75.13 L106.98,75.10 L107.67,75.07 L108.36,75.05 L109.06,75.02 L109.75,74.98 L110.44,74.95 L111.13,74.91 L111.83,74.87 L112.52,74.83 L113.21,74.78 L113.91,74.74 L114.60,74.69 L115.29,74.63 L115.99,74.57 L116.68,74.51 L117.37,74.44 L118.06,74.37 L118.76,74.30 L119.45,74.22 L120.14,74.14 L120.84,74.05 L121.53,73.96 L122.22,73.86 L122.92,73.76 L123.61,73.65 L124.30,73.53 L124.99,73.41 L125.69,73.28 L126.38,73.15 L127.07,73.00 L127.77,72.86 L128.46,72.70 L129.15,72.54 L129.85,72.36 L130.54,72.19 L131.23,72.00 L131.92,71.80 L132.62,71.60 L133.31,71.38 L134.00,71.16 L134.70,70.93 L135.39,70.69 L136.08,70.44 L136.78,70.18 L137.47,69.91 L138.16,69.63 L138.85,69.34 L139.55,69.04 L140.24,68.73 L140.93,68.40 L141.63,68.07 L142.32,67.73 L143.01,67.38 L143.71,67.01 L144.40,66.64 L145.09,66.26 L145.78,65.86 L146.48,65.46 L147.17,65.04 L147.86,64.62 L148.56,64.18 L149.25,63.74 L149.94,63.28 L150.63,62.82 L151.33,62.35 L152.02,61.87 L152.71,61.38 L153.41,60.88 L154.10,60.38 L154.79,59.87 L155.49,59.35 L156.18,58.83 L156.87,58.30 L157.56,57.77 L158.26,57.23 L158.95,56.69 L159.64,56.14 L160.34,55.59 L161.03,55.04 L161.72,54.49 L162.42,53.94 L163.11,53.39 L163.80,52.84 L164.50,52.30 L165.19,51.75 L165.88,51.21 L166.57,50.67 L167.27,50.14 L167.96,49.62 L168.65,49.10 L169.35,48.59 L170.04,48.08 L170.73,47.59 L171.43,47.11 L172.12,46.63 L172.81,46.17 L173.50,45.72 L174.20,45.28 L174.89,44.86 L175.58,44.44 L176.28,44.04 L176.97,43.65 L177.66,43.28 L178.36,42.91 L179.05,42.56 L179.74,42.22 L180.43,41.89 L181.13,41.58 L181.82,41.28 L182.51,40.99 L183.21,40.72 L183.90,40.47 L184.59,40.25 L185.28,40.05 L185.98,39.88 L186.67,39.74 L187.36,39.64 L188.06,39.58 L188.75,39.56 L189.44,39.58 L190.14,39.64 L190.83,39.74 L191.52,39.88 L192.21,40.05 L192.91,40.25 L193.60,40.47 L194.29,40.72 L194.99,40.99 L195.68,41.28 L196.37,41.58 L197.07,41.89 L197.76,42.22 L198.45,42.56 L199.14,42.91 L199.84,43.28 L200.53,43.65 L201.22,44.04 L201.92,44.44 L202.61,44.86 L203.30,45.28 L204.00,45.72 L204.69,46.17 L205.38,46.63 L206.07,47.11 L206.77,47.59 L207.46,48.08 L208.15,48.59 L208.85,49.10 L209.54,49.62 L210.23,50.14 L210.93,50.67 L211.62,51.21 L212.31,51.75 L213.00,52.30 L213.70,52.84 L214.39,53.39 L215.08,53.94 L215.78,54.49 L216.47,55.04 L217.16,55.59 L217.86,56.14 L218.55,56.69 L219.24,57.23 L219.94,57.77 L220.63,58.30 L221.32,58.83 L222.01,59.35 L222.71,59.87 L223.40,60.38 L224.09,60.88 L224.79,61.38 L225.48,61.87 L226.17,62.35 L226.87,62.82 L227.56,63.28 L228.25,63.74 L228.94,64.18 L229.64,64.62 L230.33,65.04 L231.02,65.46 L231.72,65.86 L232.41,66.26 L233.10,66.64 L233.79,67.01 L234.49,67.38 L235.18,67.73 L235.87,68.07 L236.57,68.40 L237.26,68.73 L237.95,69.04 L238.65,69.34 L239.34,69.63 L240.03,69.91 L240.72,70.18 L241.42,70.44 L242.11,70.69 L242.80,70.93 L243.50,71.16 L244.19,71.38 L244.88,71.60 L245.58,71.80 L246.27,72.00 L246.96,72.19 L247.66,72.36 L248.35,72.54 L249.04,72.70 L249.73,72.86 L250.43,73.00 L251.12,73.15 L251.81,73.28 L252.51,73.41 L253.20,73.53 L253.89,73.65 L254.59,73.76 L255.28,73.86 L255.97,73.96 L256.66,74.05 L257.36,74.14 L258.05,74.22 L258.74,74.30 L259.44,74.37 L260.13,74.44 L260.82,74.51 L261.51,74.57 L262.21,74.63 L262.90,74.69 L263.59,74.74 L264.29,74.78 L264.98,74.83 L265.67,74.87 L266.37,74.91 L267.06,74.95 L267.75,74.98 L268.44,75.02 L269.14,75.05 L269.83,75.07 L270.52,75.10 L271.22,75.13 L271.91,75.15 L272.60,75.17 L273.30,75.19 L273.99,75.21 L274.68,75.22 L275.38,75.24 L276.07,75.25 L276.76,75.27 L277.45,75.28 L278.15,75.29 L278.84,75.30 L279.53,75.31 L280.23,75.32 L280.92,75.33 L281.61,75.34 L282.31,75.35 L283.00,75.35 L283.69,75.36 L284.38,75.36 L285.08,75.37 L285.77,75.37 L286.46,75.38 L287.16,75.38 L287.85,75.38 L288.54,75.39 L289.24,75.39 L289.93,75.39 L290.62,75.40 L291.31,75.40 L292.01,75.40 L292.70,75.40 L293.39,75.40 L294.09,75.41 L294.78,75.41 L295.47,75.41 L296.17,75.41 L296.86,75.41 L297.55,75.41 L298.24,75.41 L298.94,75.41 L299.63,75.41 L300.32,75.41 L301.02,75.42 L301.71,75.42 L302.40,75.42 L303.09,75.42 L303.79,75.42 L304.48,75.42 L305.17,75.42 L305.87,75.42 L306.56,75.42 L307.25,75.42 L307.95,75.42 L308.64,75.42 L309.33,75.42 L310.02,75.42 L310.72,75.42 L311.41,75.42 L312.10,75.42 L312.80,75.42 L313.49,75.42 L314.18,75.42 L314.88,75.42 L315.57,75.42 L316.26,75.42 L316.96,75.42 L317.65,75.42 L318.34,75.42 L319.03,75.42 L319.73,75.42 L320.42,75.42 L321.11,75.42 L321.81,75.42 L322.50,75.42 L323.19,75.42 L323.88,75.42 L324.58,75.42 L325.27,75.42 L325.96,75.42 L326.66,75.42 L327.35,75.42" fill="none" stroke="#000000" stroke-width="1.6" stroke-linejoin="round"/>
</g>
<g font-size="16.1px" fill="#3c3c3c">
<text transform="translate(39.3,359.12) scale(0.977,1)" text-anchor="end">0</text>
<text transform="translate(39.3,289.66) scale(0.977,1)" text-anchor="end">0.2</text>
<text transform="translate(39.3,220.20) scale(0.977,1)" text-anchor="end">0.4</text>
<text transform="translate(39.3,150.74) scale(0.977,1)" text-anchor="end">0.6</text>
<text transform="translate(39.3,81.28) scale(0.977,1)" text-anchor="end">0.8</text>
<path d="M31.9,3.7 L35.3,1.1 L36.45,1.1 L36.45,11.7 L35.0,11.7 L35.0,2.9 L32.5,4.7 Z"/>
<text transform="translate(50.25,378.6) scale(0.977,1)" text-anchor="middle">−4</text>
<text transform="translate(119.55,378.6) scale(0.977,1)" text-anchor="middle">−2</text>
<text transform="translate(188.85,378.6) scale(0.977,1)" text-anchor="middle">0</text>
<text transform="translate(258.15,378.6) scale(0.977,1)" text-anchor="middle">2</text>
<text transform="translate(327.45,378.6) scale(0.977,1)" text-anchor="middle">4</text>
</g>
<text x="187.2" y="397.7" text-anchor="middle" font-size="15px" font-weight="bold" fill="#000" textLength="79" lengthAdjust="spacingAndGlyphs">frequency</text>
<text transform="translate(12.3,179.4) rotate(-90)" text-anchor="middle" font-size="15.8px" font-weight="bold" fill="#000" textLength="33" lengthAdjust="spacingAndGlyphs">DOS</text>
</svg>
</body></html>
